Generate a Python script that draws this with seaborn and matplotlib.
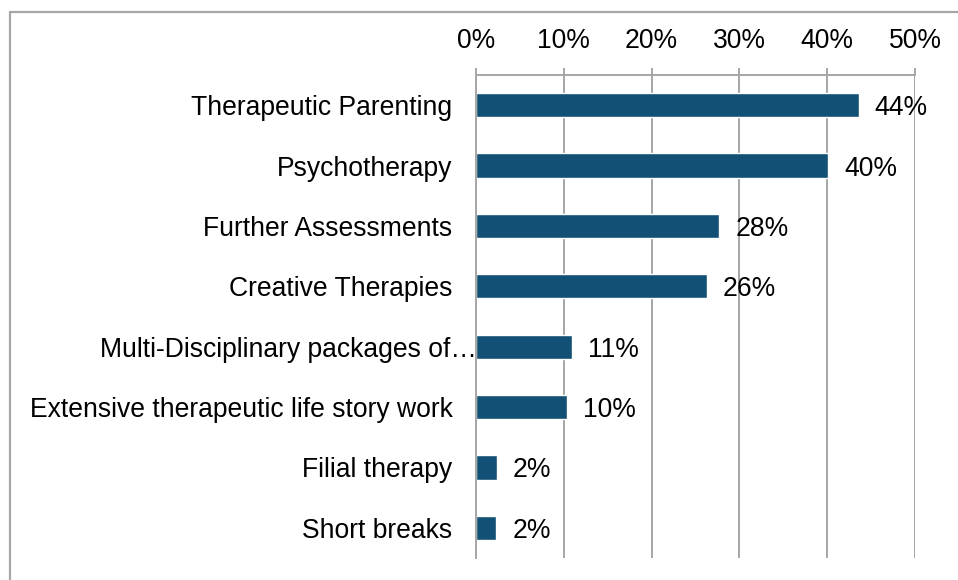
import pandas as pd
import matplotlib
matplotlib.use("Agg")
import matplotlib.pyplot as plt
import matplotlib.transforms as mtransforms
from matplotlib.lines import Line2D
from matplotlib.ticker import FixedLocator, PercentFormatter
import seaborn as sns

categories = [
    "Therapeutic Parenting",
    "Psychotherapy",
    "Further Assessments",
    "Creative Therapies",
    "Multi-Disciplinary packages of\u2026",
    "Extensive therapeutic life story work",
    "Filial therapy",
    "Short breaks",
]
values = [43.6, 40.1, 27.7, 26.3, 10.9, 10.4, 2.4, 2.3]
value_labels = ["44%", "40%", "28%", "26%", "11%", "10%", "2%", "2%"]
x_ticks = [0, 10, 20, 30, 40, 50]

df = pd.DataFrame({"category": categories, "value": values})

sns.set_style("white")
plt.rcParams["font.family"] = ["Liberation Sans", "DejaVu Sans"]

bar_color = "#125175"
grid_color = "#A6A6A6"
fs = 19.1

fig = plt.figure(figsize=(9.58, 5.8), dpi=100)
ax = fig.add_axes([476 / 958, 1 - 558 / 580, (915 - 476) / 958, (558 - 75) / 580])

sns.barplot(data=df, x="value", y="category", orient="h", color=bar_color,
            width=0.4, saturation=1, ax=ax)

ax.set_xlim(0, 50)
ax.set_ylim(len(categories) - 0.5, -0.5)
ax.set_xlabel("")
ax.set_ylabel("")

# x axis on top
ax.xaxis.tick_top()
ax.set_xticks(x_ticks)
ax.xaxis.set_major_formatter(PercentFormatter(decimals=0))
ax.tick_params(axis="x", which="major", direction="out", length=5, width=1.4,
               color=grid_color, pad=10, labelsize=fs, labelcolor="black")
ax.grid(axis="x", color=grid_color, linewidth=1.4)
ax.set_axisbelow(True)

# y axis: labels at centres, tick marks at category boundaries
ax.tick_params(axis="y", which="major", length=0, pad=17, labelsize=fs,
               labelcolor="black")
ax.yaxis.set_minor_locator(FixedLocator([i - 0.5 for i in range(len(categories) + 1)]))
ax.tick_params(axis="y", which="minor", direction="out", length=5, width=1.4,
               color=grid_color)

for side in ["right", "bottom"]:
    ax.spines[side].set_visible(False)
for side in ["left", "top"]:
    ax.spines[side].set_color(grid_color)
    ax.spines[side].set_linewidth(1.4)

# the truncated label in the original runs up to the axis line
shift = mtransforms.ScaledTranslation(24 / 100, 0, fig.dpi_scale_trans)
lbl = ax.get_yticklabels()[4]
lbl.set_transform(lbl.get_transform() + shift)

texts = ax.bar_label(ax.containers[0], labels=value_labels, padding=11.5,
                     fontsize=fs, color="black")
for t in texts:
    t.set_va("center_baseline")

# outer chart border (left and top visible)
fig.add_artist(Line2D([10 / 958, 10 / 958], [0, 1 - 12 / 580], color=grid_color,
                      linewidth=1.6, transform=fig.transFigure))
fig.add_artist(Line2D([10 / 958, 1], [1 - 12 / 580, 1 - 12 / 580], color=grid_color,
                      linewidth=1.6, transform=fig.transFigure))

fig.savefig("out.png", dpi=100)
